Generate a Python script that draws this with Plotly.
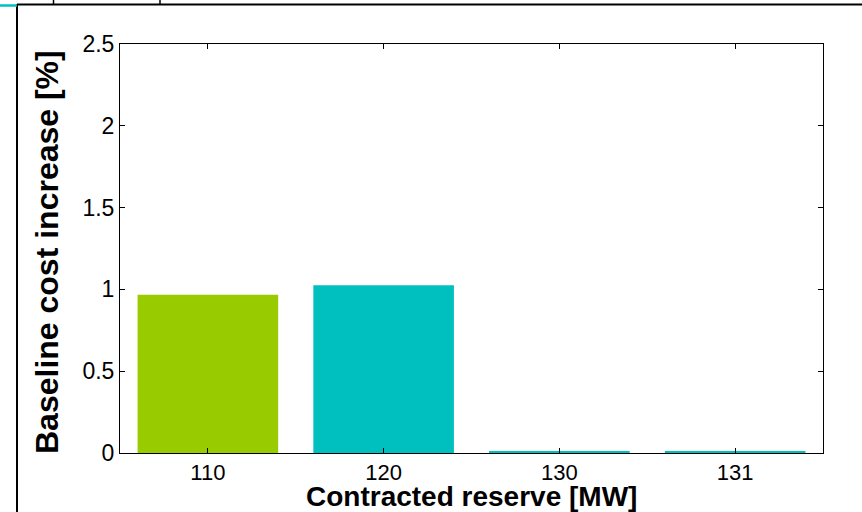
import plotly.graph_objects as go

categories = ["110", "120", "130", "131"]
values = [0.968, 1.025, 0.008, 0.008]
bar_colors = ["#99CC00", "#00BFBF", "#00BFBF", "#00BFBF"]
y_ticks = [0, 0.5, 1, 1.5, 2, 2.5]
y_tick_labels = ["0", "0.5", "1", "1.5", "2", "2.5"]
x_title = "Contracted reserve [MW]"
y_title = "Baseline cost increase [%]"

W, H = 862, 512
L, R, T, B = 120, 39, 44, 59
pw, ph = W - L - R, H - T - B

def px(x):
    return (x - L) / pw

def py(y):
    return (H - B - y) / ph

fig = go.Figure(go.Bar(
    x=list(range(len(categories))), y=values,
    marker=dict(color=bar_colors, line=dict(width=0)),
    width=0.8,
))

shapes = [
    dict(type="line", xref="paper", yref="paper", x0=px(17), x1=px(862), y0=py(4.5), y1=py(4.5), line=dict(color="black", width=2)),
    dict(type="line", xref="paper", yref="paper", x0=px(17), x1=px(17), y0=py(4), y1=py(512), line=dict(color="black", width=2)),
    dict(type="line", xref="paper", yref="paper", x0=px(0), x1=px(17), y0=py(5.5), y1=py(5.5), line=dict(color="#00BFBF", width=2.5)),
    dict(type="line", xref="paper", yref="paper", x0=px(53.5), x1=px(53.5), y0=py(0), y1=py(4), line=dict(color="black", width=1.5)),
    dict(type="line", xref="paper", yref="paper", x0=px(160), x1=px(160), y0=py(0), y1=py(4), line=dict(color="black", width=1.5)),
]

annotations = [
    dict(text="<b>" + x_title + "</b>", xref="paper", yref="paper",
         x=px(471), y=py(496), xanchor="center", yanchor="middle",
         showarrow=False, font=dict(size=28)),
    dict(text="<b>" + y_title + "</b>", xref="paper", yref="paper",
         x=px(46.5), y=py(252.5), xanchor="center", yanchor="middle",
         textangle=-90, showarrow=False, font=dict(size=32)),
]

fig.update_layout(
    width=W, height=H,
    margin=dict(l=L, r=R, t=T, b=B, autoexpand=False),
    plot_bgcolor="white", paper_bgcolor="white",
    showlegend=False,
    shapes=shapes,
    annotations=annotations,
    font=dict(family="Liberation Sans, Arial, sans-serif", color="black"),
)
fig.update_xaxes(
    range=[-0.5, 3.5], automargin=False,
    tickmode="array", tickvals=list(range(len(categories))), ticktext=categories,
    ticks="inside", ticklen=5, tickcolor="black",
    showline=True, linecolor="black", linewidth=1, mirror="allticks",
    showgrid=False, zeroline=False,
    tickfont=dict(size=22),
)
fig.update_yaxes(
    range=[0, 2.5], automargin=False,
    tickmode="array", tickvals=y_ticks, ticktext=y_tick_labels,
    ticks="inside", ticklen=5, tickcolor="black",
    showline=True, linecolor="black", linewidth=1, mirror="allticks",
    showgrid=False, zeroline=False,
    tickfont=dict(size=23),
)

fig.write_html("out.html", config={"displayModeBar": False},
               post_script="document.body.style.margin='0';document.body.style.padding='0';")
